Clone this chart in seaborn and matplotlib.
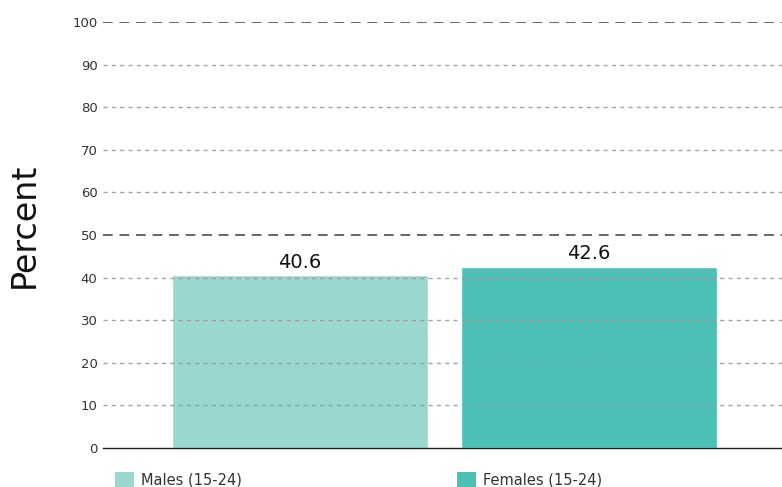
import matplotlib
matplotlib.use("Agg")
import matplotlib.pyplot as plt
import seaborn as sns
import pandas as pd
from matplotlib.patches import Patch

categories = ["Males (15-24)", "Females (15-24)"]
values = [40.6, 42.6]
colors = ["#9ad8cf", "#4cc0b5"]
yticks = [0, 10, 20, 30, 40, 50, 60, 70, 80, 90, 100]

sns.set_theme(style="white")
plt.rcParams['font.family'] = ['DejaVu Sans']

df = pd.DataFrame({"cat": categories, "val": values})

fig = plt.figure(figsize=(7.82, 4.87), dpi=100)
ax = fig.add_axes([103/782, 1 - 448/487, 1 - 103/782 + 4/782, (448 - 22)/487])

sns.barplot(data=df, x="cat", y="val", hue="cat", palette=colors, width=0.886,
            legend=False, ax=ax, zorder=1, saturation=1)

ax.set_ylim(0, 100)
ax.set_xlim(-0.682, 1.682)
ax.set_yticks(yticks)
ax.set_yticklabels([str(t) for t in yticks], fontsize=9.5, color="#333333")
ax.tick_params(axis="y", length=0, pad=4)
ax.set_xticks([])
ax.set_xlabel("")
ax.set_ylabel("Percent", fontsize=24, color="#111111")
ax.yaxis.set_label_coords(-(103 - 41) / (782 - 103 + 4), (448 - 225) / (448 - 22))

for t in yticks[1:]:
    if t in (50, 100):
        ax.axhline(t, color="#666666", lw=1.4, ls=(0, (5, 3.5)), zorder=3)
    else:
        ax.axhline(t, color="#999999", lw=1.0, ls=(0, (3, 3)), zorder=3, alpha=0.9)

for s in ["top", "right", "left"]:
    ax.spines[s].set_visible(False)
ax.spines["bottom"].set_color("#222222")
ax.spines["bottom"].set_linewidth(1.0)
ax.spines["bottom"].set_zorder(4)

for i, v in enumerate(values):
    ax.text(i, v + 0.8, f"{v}", ha="center", va="bottom", fontsize=14, color="#111111")

handles = [Patch(facecolor=c, edgecolor="none") for c in colors]
fig.legend(handles, categories, loc="lower left", bbox_to_anchor=(102/782, -0.027),
           ncol=2, frameon=False, fontsize=10.5, handlelength=1.3, handleheight=1.2,
           handletextpad=0.45, columnspacing=14.8, labelcolor="#333333")

fig.savefig("out.png", dpi=100)
